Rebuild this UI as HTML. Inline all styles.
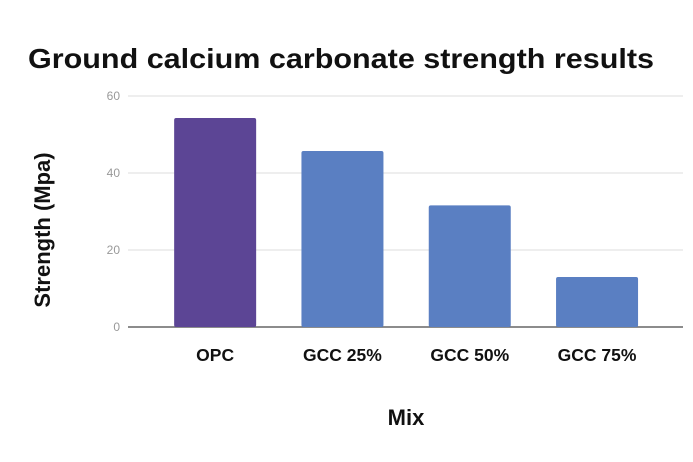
<!DOCTYPE html>
<html><head><meta charset="utf-8"><style>
body{margin:0;background:#fff;}
svg{display:block;font-family:"Liberation Sans",sans-serif;}
</style></head><body>
<svg id="chart" width="693" height="462" viewBox="0 0 693 462">
<rect width="693" height="462" fill="#fff"/>
<text x="28" y="68" font-size="27.5" font-weight="bold" fill="#111" textLength="626" lengthAdjust="spacingAndGlyphs">Ground calcium carbonate strength results</text>
<text transform="translate(50,230) rotate(-90)" text-anchor="middle" font-size="22" font-weight="bold" fill="#111">Strength (Mpa)</text>
<text x="406" y="425" text-anchor="middle" font-size="22" font-weight="bold" fill="#111">Mix</text>
<g id="grid"></g><g id="bars"></g><g id="labels"></g>
</svg>
<script>
const categories=["OPC","GCC 25%","GCC 50%","GCC 75%"];
const values=[54.3,45.7,31.6,13.0];
const colors=["#5c4595","#5a7fc2","#5a7fc2","#5a7fc2"];
const yTicks=[0,20,40,60];
const NS="http://www.w3.org/2000/svg";
const y0=327,y60=96,yMax=60;
function yScale(v){return y0-(v/yMax)*(y0-y60);}
const bandStart=151.5,step=127.3,barW=82;
function xCenter(i){return bandStart+step*(i+0.5);}
function mk(tag,attrs){const e=document.createElementNS(NS,tag);for(const k in attrs)e.setAttribute(k,attrs[k]);return e;}
const grid=document.getElementById('grid'),bars=document.getElementById('bars'),labels=document.getElementById('labels');
yTicks.forEach(t=>{
 const y=yScale(t);
 const l=mk('line',{x1:128,x2:683,y1:y,y2:y,stroke:t===0?'#666':'#ddd','stroke-width':t===0?1.5:1});
 
 
 grid.appendChild(l);
 const tx=mk('text',{x:120,y:y+4,'text-anchor':'end','font-size':12,fill:'#999'});
 tx.textContent=t;
 
 
 grid.appendChild(tx);
});
categories.forEach((c,i)=>{
 const cx=xCenter(i),top=yScale(values[i]);
 const r=mk('rect',{x:cx-barW/2,y:top,width:barW,height:y0-top,fill:colors[i],rx:2});
 
 
 bars.appendChild(r);
 const t=mk('text',{x:cx,y:361,'text-anchor':'middle','font-size':17.5,'font-weight':'bold',fill:'#111'});
 t.textContent=c;
 
 
 labels.appendChild(t);
});
</script>
</body></html>
